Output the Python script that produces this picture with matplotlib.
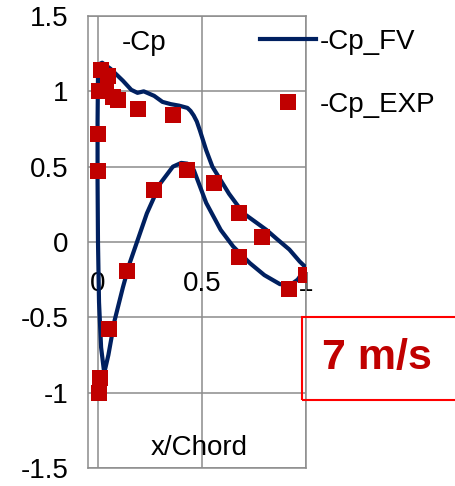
import matplotlib
matplotlib.use('Agg')
import matplotlib.pyplot as plt
from matplotlib.patches import Rectangle

plt.rcParams['font.family'] = ['Liberation Sans', 'DejaVu Sans']

# FV 计算结果（从后缘沿上表面到前缘，再沿下表面回到后缘）
fv_x = [1.0, 0.97, 0.92, 0.86, 0.81, 0.75, 0.70, 0.67, 0.63, 0.59, 0.55, 0.52,
        0.49, 0.475, 0.46, 0.445, 0.43, 0.39, 0.35, 0.31, 0.27, 0.22, 0.19, 0.16,
        0.12, 0.06, 0.02, 0.005, 0.0, -0.002, -0.002, 0.0, 0.005, 0.015, 0.03,
        0.05, 0.08, 0.12, 0.15, 0.19, 0.235, 0.30, 0.36, 0.40, 0.43, 0.46, 0.49,
        0.52, 0.59, 0.65, 0.73, 0.80, 0.875, 0.93, 0.96, 1.0]
fv_y = [-0.17, -0.13, -0.05, 0.02, 0.08, 0.14, 0.19, 0.245, 0.32, 0.41, 0.50, 0.61,
        0.74, 0.80, 0.84, 0.87, 0.89, 0.905, 0.915, 0.93, 0.97, 1.00, 0.99, 1.01,
        1.07, 1.15, 1.19, 1.18, 1.10, 0.80, 0.40, 0.0, -0.40, -0.70, -0.87,
        -0.75, -0.52, -0.30, -0.15, 0.01, 0.19, 0.39, 0.50, 0.525, 0.52, 0.48, 0.37,
        0.26, 0.08, -0.03, -0.14, -0.22, -0.28, -0.28, -0.25, -0.17]

# 实验数据
exp_x = [0.0, 0.0, 0.014, 0.005, 0.05, 0.04, 0.07, 0.096, 0.19, 0.36, 0.27, 0.43,
         0.56, 0.68, 0.79, 0.92, 1.0, 0.68, 0.14, 0.055, 0.01, 0.005]
exp_y = [0.47, 0.72, 1.14, 1.00, 1.10, 1.00, 0.96, 0.94, 0.88, 0.84, 0.345, 0.48,
         0.39, 0.19, 0.03, -0.31, -0.22, -0.10, -0.19, -0.58, -0.90, -1.0]

xticks = [0, 0.5, 1]
yticks = [-1.5, -1, -0.5, 0, 0.5, 1, 1.5]

fig = plt.figure(figsize=(4.55, 4.86), dpi=100)
ax = fig.add_axes([88/455, 18/486, 218/455, 452/486])

ax.plot(fv_x, fv_y, color='#002060', linewidth=3, label='-Cp_FV', zorder=3)
ax.plot(exp_x, exp_y, linestyle='None', marker='s', markersize=12,
        color='#C00000', markeredgewidth=0, label='-Cp_EXP', zorder=4)

ax.set_xlim(-0.048, 1.0)
ax.set_ylim(-1.5, 1.5)
ax.set_xticks(xticks)
ax.set_xticklabels(['0', '0.5', '1'])
ax.set_yticks(yticks)
ax.set_yticklabels(['-1.5', '-1', '-0.5', '0', '0.5', '1', '1.5'])
ax.grid(True, color='#8c8c8c', linewidth=1.1, zorder=1)
ax.set_axisbelow(True)
ax.axhline(-1.5, color='#8c8c8c', linewidth=1.1, clip_on=False, zorder=1)

# x轴放在 y=0 处
ax.spines['bottom'].set_position(('data', 0))
ax.spines['bottom'].set_visible(False)
for s in ['left', 'top', 'right']:
    ax.spines[s].set_color('#8c8c8c')
    ax.spines[s].set_linewidth(1.1)
ax.tick_params(axis='both', length=0, labelsize=20)
ax.tick_params(axis='y', pad=14)
ax.tick_params(axis='x', pad=21)

ax.text(0.257, 0.925, '-Cp', transform=ax.transAxes, fontsize=20,
        ha='center', va='baseline')
ax.text(0.509, 0.029, 'x/Chord', transform=ax.transAxes, fontsize=20,
        ha='center', va='baseline')

fig.legend(loc='upper left', bbox_to_anchor=(260/455, 1 - 29/486), frameon=False,
           fontsize=20, handlelength=2.0, handletextpad=0.15, labelspacing=1.32,
           borderpad=0, borderaxespad=0)

fig.patches.append(Rectangle((302/455, 86/486), 160/455, 83/486, fill=False,
                             edgecolor='red', linewidth=1.5,
                             transform=fig.transFigure, figure=fig))
fig.text(322/455, 1 - 369/486, '7 m/s', fontsize=31, fontweight='bold',
         color='#C00000', ha='left', va='baseline')

fig.savefig('out.png', dpi=100)
